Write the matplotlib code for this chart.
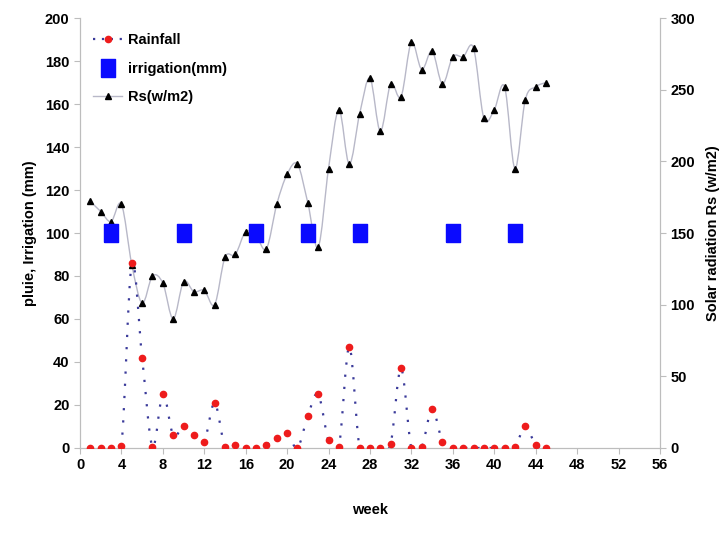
import numpy as np
import matplotlib
matplotlib.use("Agg")
import matplotlib.pyplot as plt
from matplotlib.path import Path
from matplotlib.patches import PathPatch
from matplotlib.lines import Line2D

plt.rcParams['font.family'] = ['Liberation Sans', 'DejaVu Sans']

weeks = list(range(1, 46))
rainfall = [0, 0, 0, 1, 86, 42, 0.5, 25, 6, 10, 6, 3, 21, 0.5, 1.5, 0, 0, 1.5, 4.5, 7,
            0, 15, 25, 3.5, 0.5, 47, 0, 0, 0, 2, 37, 0, 0.5, 18, 3, 0, 0, 0, 0, 0,
            0, 0.5, 10, 1.5, 0]
rs = [172, 165, 158, 170, 128, 101, 120, 115, 90, 116, 109, 110, 100, 133, 135, 151,
      148, 139, 170, 191, 198, 171, 140, 195, 236, 198, 233, 258, 221, 254, 245, 283,
      264, 277, 254, 273, 273, 279, 230, 236, 252, 195, 243, 252, 255]
irr_weeks = [3, 10, 17, 22, 27, 36, 42]
irr_values = [100, 100, 100, 100, 100, 100, 100]

x_ticks = list(range(0, 57, 4))
left_ticks = list(range(0, 201, 20))
right_ticks = list(range(0, 301, 50))


def smooth_path(xs, ys):
    xs = np.asarray(xs, float)
    ys = np.asarray(ys, float)
    n = len(xs)
    verts = [(xs[0], ys[0])]
    codes = [Path.MOVETO]
    for i in range(n - 1):
        i0 = max(i - 1, 0)
        i3 = min(i + 2, n - 1)
        c1 = (xs[i] + (xs[i + 1] - xs[i0]) / 6, ys[i] + (ys[i + 1] - ys[i0]) / 6)
        c2 = (xs[i + 1] - (xs[i3] - xs[i]) / 6, ys[i + 1] - (ys[i3] - ys[i]) / 6)
        verts += [c1, c2, (xs[i + 1], ys[i + 1])]
        codes += [Path.CURVE4] * 3
    return Path(verts, codes)


fig = plt.figure(figsize=(7.24, 5.33), dpi=100)
ax = fig.add_axes([0.1105, 0.1595, 0.801, 0.8067])
ax2 = ax.twinx()

grey = '#bdbdbd'
tfs = 10.5
rain_line = '#3a3a9a'

# Rs on right axis
ax2.add_patch(PathPatch(smooth_path(weeks, rs), facecolor='none', edgecolor='#b8b8c8',
                        lw=1.0, zorder=2))
ax2.plot(weeks, rs, linestyle='none', marker='^', color='black', markersize=4.5, zorder=3)

# Rainfall on left axis
ax.add_patch(PathPatch(smooth_path(weeks, rainfall), facecolor='none', edgecolor=rain_line,
                       lw=1.6, linestyle=(0, (1, 4.5)), zorder=2))
ax.plot(weeks, rainfall, linestyle='none', marker='o', color='#ee1c1c', markersize=4.5, zorder=3)

# Irrigation
rect = [(-0.38, -0.5), (0.38, -0.5), (0.38, 0.5), (-0.38, 0.5), (-0.38, -0.5)]
ax.plot(irr_weeks, irr_values, linestyle='none', marker=rect, color='#0a0aff',
        markersize=13, zorder=4)

ax.set_zorder(ax2.get_zorder() + 1)
ax.patch.set_visible(False)

ax.set_xlim(0, 56)
ax.set_ylim(0, 200)
ax2.set_ylim(0, 300)
ax.set_xticks(x_ticks)
ax.set_yticks(left_ticks)
ax2.set_yticks(right_ticks)

for a in (ax, ax2):
    for s in a.spines.values():
        s.set_color(grey)
    a.spines['top'].set_visible(False)
    a.tick_params(colors=grey, labelcolor='black', labelsize=tfs, length=4, direction='out')
for lbl in ax.get_xticklabels() + ax.get_yticklabels() + ax2.get_yticklabels():
    lbl.set_fontweight('bold')

ax.set_xlabel('week', fontsize=tfs, fontweight='bold', labelpad=22)
ax.set_ylabel('pluie, Irrigation (mm)', fontsize=tfs, fontweight='bold', labelpad=6)
ax2.set_ylabel('Solar radiation Rs (w/m2)', fontsize=tfs, fontweight='bold', labelpad=8)

handles = [
    Line2D([], [], color=rain_line, lw=1.6, linestyle=(0, (1, 3)), marker='o',
           markerfacecolor='#ee1c1c', markeredgecolor='#ee1c1c', markersize=4.5),
    Line2D([], [], linestyle='none', marker=rect, color='#0a0aff', markersize=13),
    Line2D([], [], color='#b8b8c8', lw=1.0, marker='^', markerfacecolor='black',
           markeredgecolor='black', markersize=4.5),
]
leg = ax.legend(handles, ['Rainfall', 'irrigation(mm)', 'Rs(w/m2)'],
                loc='upper left', bbox_to_anchor=(0.0, 0.995), frameon=False,
                prop={'size': tfs, 'weight': 'bold'}, handlelength=2.0,
                handletextpad=0.4, labelspacing=1.0)

fig.savefig('out.png', dpi=100)
